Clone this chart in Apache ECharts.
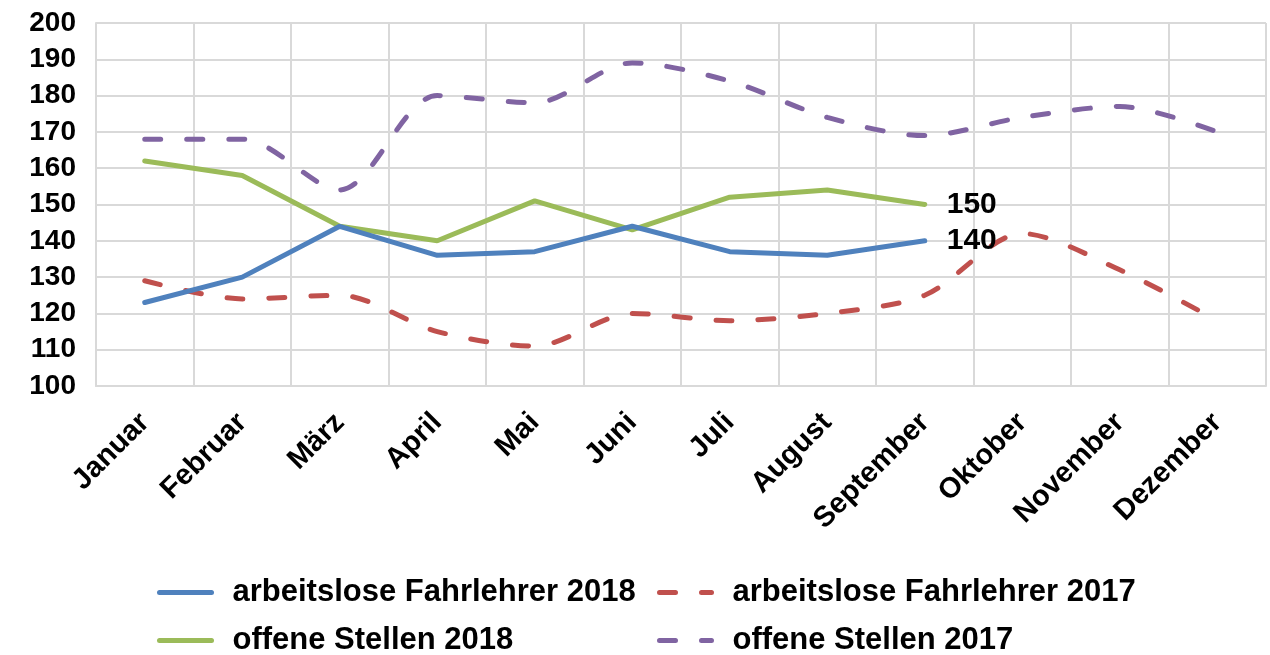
<!DOCTYPE html>
<html>
<head>
<meta charset="utf-8">
<script src="https://cdn.jsdelivr.net/npm/echarts@6/dist/echarts.min.js"></script>
<style>
  html, body { margin: 0; padding: 0; background: #fff; }
  #chart { width: 1270px; height: 655px; }
</style>
</head>
<body>
<div id="chart"></div>
<script>
// Monate
const months = ["Januar", "Februar", "März", "April", "Mai", "Juni", "Juli", "August", "September", "Oktober", "November", "Dezember"];
const arbeitslose2018 = [123, 130, 144, 136, 137, 144, 137, 136, 140];
const arbeitslose2017 = [129, 124, 125, 115, 111, 120, 118, 120, 125, 142, 132, 118];
const offene2018 = [162, 158, 144, 140, 151, 143, 152, 154, 150];
const offene2017 = [168, 168, 154, 180, 178, 189, 184, 174, 169, 174, 177, 170];

const font = "Liberation Sans";
const endLabel = {
  show: true,
  distance: 22,
  color: "#000",
  fontFamily: font,
  fontWeight: "bold",
  fontSize: 30,
  formatter: p => p.value
};
const dash = [16, 26];

function legend(name, left, top, dashed) {
  return {
    data: [name],
    left: left,
    top: top,
    itemWidth: 52,
    itemHeight: 14,
    itemGap: 0,
    itemStyle: { opacity: 0 },
    lineStyle: { width: 5, type: dashed ? dash : "solid", cap: "round" },
    textStyle: { fontFamily: font, fontWeight: "bold", fontSize: 31, color: "#000", padding: [0, 0, 0, 16] }
  };
}

const chart = echarts.init(document.getElementById("chart"));
chart.setOption({
  animation: false,
  grid: { left: 96, right: 4, top: 23, bottom: 269 },
  legend: [
    legend("arbeitslose Fahrlehrer 2018", 152, 572, false),
    legend("arbeitslose Fahrlehrer 2017", 652, 572, true),
    legend("offene Stellen 2018", 152, 620, false),
    legend("offene Stellen 2017", 652, 620, true)
  ],
  xAxis: {
    type: "category",
    data: months,
    boundaryGap: true,
    axisLine: { lineStyle: { color: "#d9d9d9", width: 2 } },
    axisTick: { show: false },
    splitLine: { show: true, interval: 0, lineStyle: { color: "#d9d9d9", width: 2 } },
    axisLabel: {
      interval: 0,
      rotate: 45,
      margin: 32,
      color: "#000",
      fontFamily: font,
      fontWeight: "bold",
      fontSize: 29
    }
  },
  yAxis: {
    type: "value",
    min: 100,
    max: 200,
    interval: 10,
    axisLine: { show: true, lineStyle: { color: "#d9d9d9", width: 2 } },
    splitLine: { lineStyle: { color: "#d9d9d9", width: 2 } },
    axisLabel: {
      margin: 20,
      color: "#000",
      fontFamily: font,
      fontWeight: "bold",
      fontSize: 28
    }
  },
  series: [
    {
      name: "arbeitslose Fahrlehrer 2018",
      type: "line",
      data: arbeitslose2018,
      symbol: "none",
      color: "#4F81BD",
      lineStyle: { width: 5, color: "#4F81BD", cap: "round" },
      endLabel: endLabel,
      z: 4
    },
    {
      name: "arbeitslose Fahrlehrer 2017",
      type: "line",
      data: arbeitslose2017,
      symbol: "none",
      smooth: 0.3,
      color: "#C0504D",
      lineStyle: { width: 5, color: "#C0504D", type: dash, cap: "round" },
      z: 2
    },
    {
      name: "offene Stellen 2018",
      type: "line",
      data: offene2018,
      symbol: "none",
      color: "#9BBB59",
      lineStyle: { width: 5, color: "#9BBB59", cap: "round" },
      endLabel: endLabel,
      z: 3
    },
    {
      name: "offene Stellen 2017",
      type: "line",
      data: offene2017,
      symbol: "none",
      smooth: 0.3,
      color: "#8064A2",
      lineStyle: { width: 5, color: "#8064A2", type: dash, cap: "round" },
      z: 2
    }
  ]
});
</script>
</body>
</html>
